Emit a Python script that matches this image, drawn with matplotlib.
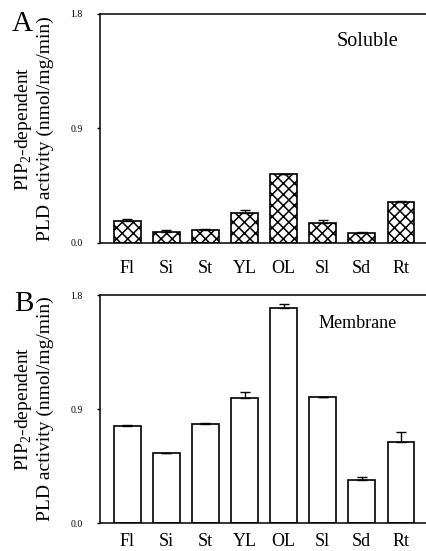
import numpy as np
import matplotlib
matplotlib.use('Agg')
import matplotlib.pyplot as plt

plt.rcParams['font.family'] = ['Liberation Serif', 'DejaVu Serif']
plt.rcParams['hatch.linewidth'] = 1.1
plt.rcParams['mathtext.fontset'] = 'custom'
plt.rcParams['mathtext.rm'] = 'Liberation Serif'

# 组织类别
tissues = ['Fl', 'Si', 'St', 'YL', 'OL', 'Sl', 'Sd', 'Rt']
# 可溶部分 (A)
soluble = [0.171, 0.087, 0.106, 0.235, 0.543, 0.161, 0.079, 0.320]
soluble_err = [0.020, 0.016, 0.004, 0.027, 0.003, 0.016, 0.004, 0.013]
# 膜部分 (B)
membrane = [0.769, 0.553, 0.779, 0.990, 1.700, 0.995, 0.343, 0.643]
membrane_err = [0.004, 0.003, 0.008, 0.042, 0.026, 0.0, 0.018, 0.073]

yticks = [0.0, 0.9, 1.8]
ylabel_lines = ['PIP$_2$-dependent', 'PLD activity (nmol/mg/min)']

fig = plt.figure(figsize=(4.27, 5.51), dpi=100)
axA = fig.add_axes([0.234, 0.559, 0.766, 0.4156])
axB = fig.add_axes([0.234, 0.0508, 0.766, 0.4138])

panels = [(axA, soluble, soluble_err, 'xxx', 'Soluble', 12, 14.5, (0.725, 0.879)),
          (axB, membrane, membrane_err, None, 'Membrane', 7, 13, (0.667, 0.877))]

for ax, vals, errs, hatch, name, xpad, nsize, npos in panels:
    x = np.arange(len(tissues))
    ax.bar(x, vals, width=0.68, color='white', edgecolor='black', linewidth=1.2,
           hatch=hatch, zorder=2)
    ax.errorbar(x, vals, yerr=[np.zeros(len(errs)), errs], fmt='none', ecolor='black',
                elinewidth=1.0, capsize=3.5, capthick=1.0, zorder=3)
    ax.set_xlim(-0.7, 7.67)
    ax.set_ylim(0, 1.8)
    ax.set_yticks(yticks)
    ax.set_yticklabels(['%.1f' % v for v in yticks], fontsize=7)
    ax.set_xticks(x)
    ax.set_xticklabels(tissues, fontsize=13)
    ax.tick_params(axis='x', length=0, pad=xpad)
    ax.tick_params(axis='y', direction='out', length=2.5, width=1, pad=10)
    ax.spines['right'].set_visible(False)
    for s in ['left', 'top', 'bottom']:
        ax.spines[s].set_linewidth(1.1)
    # y轴标签分两行单独放置
    ax.text(-0.2324, 0.5, ylabel_lines[0], transform=ax.transAxes, rotation=90,
            fontsize=14, ha='center', va='center')
    ax.text(-0.1667, 0.5, ylabel_lines[1], transform=ax.transAxes, rotation=90,
            fontsize=14, ha='center', va='center')
    ax.text(npos[0], npos[1], name, transform=ax.transAxes, fontsize=nsize,
            ha='left', va='center')

fig.text(0.052, 0.957, 'A', fontsize=21, ha='center', va='center')
fig.text(0.057, 0.449, 'B', fontsize=21, ha='center', va='center')

fig.savefig('out.png', dpi=100)
